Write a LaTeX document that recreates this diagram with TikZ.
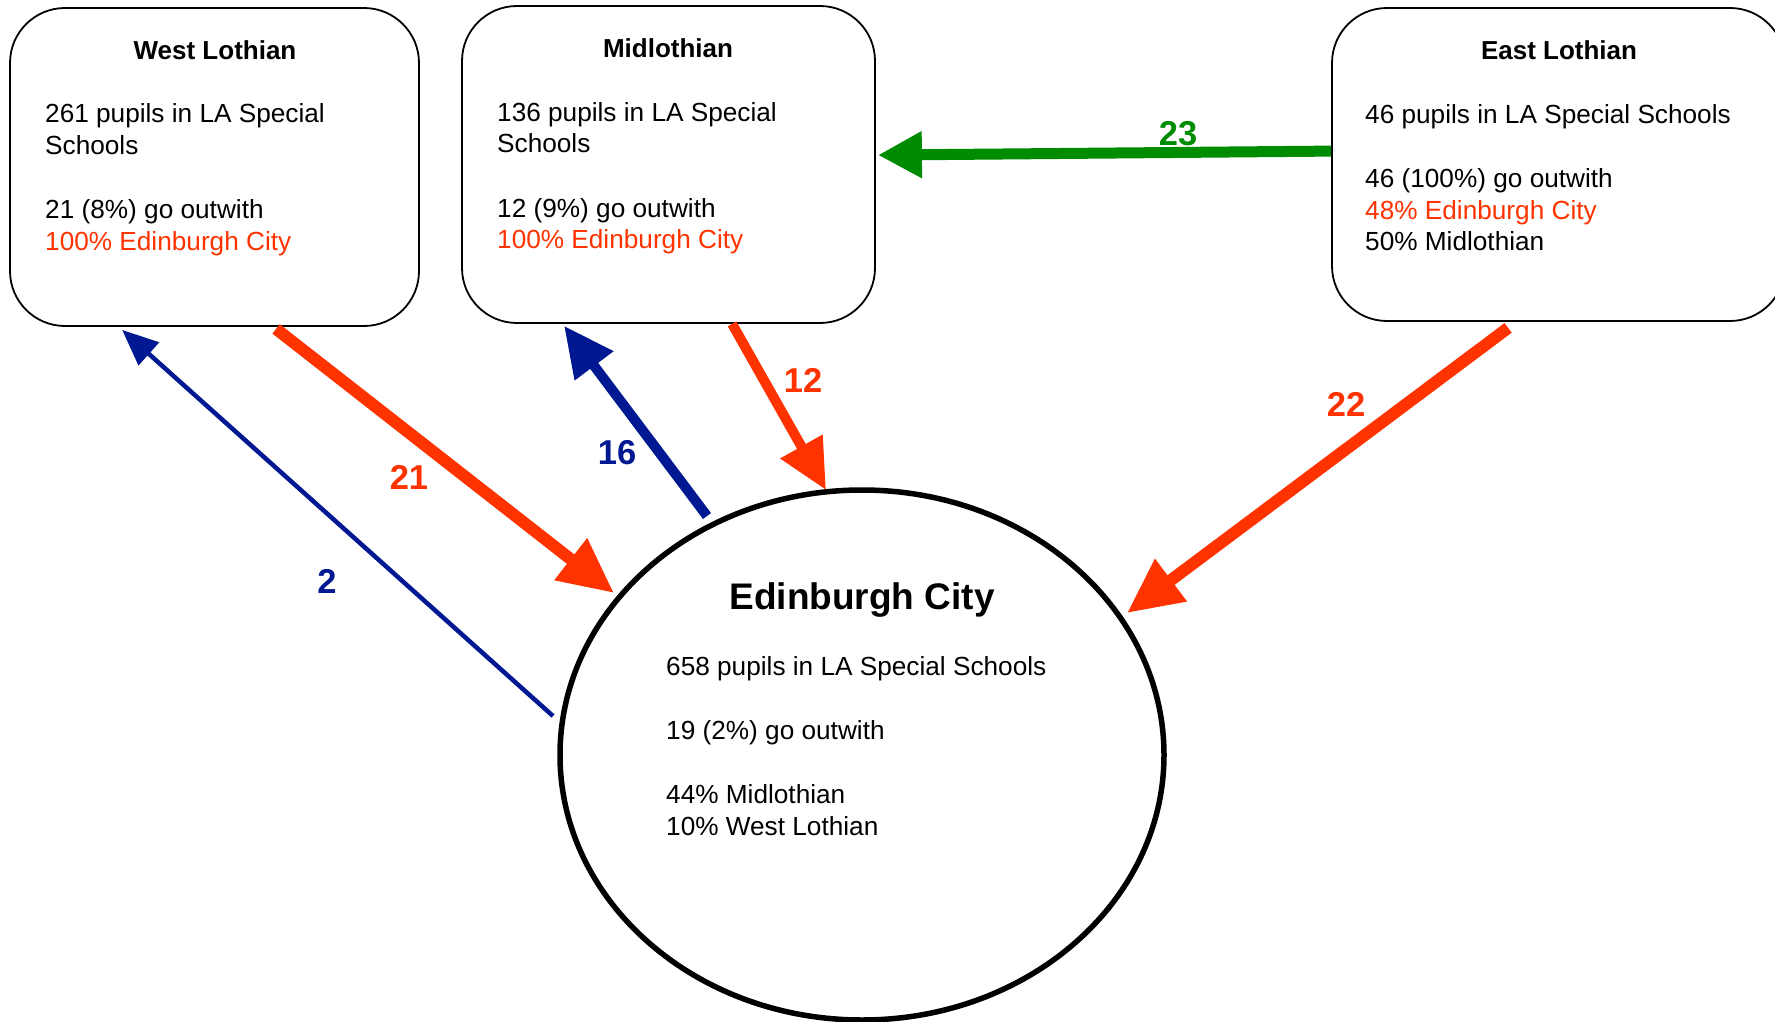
\documentclass[tikz,border=0pt]{standalone}
\usepackage{fontspec}
\setmainfont{Liberation Sans}
\usetikzlibrary{arrows.meta,calc,shapes.geometric}
\definecolor{flowred}{RGB}{255,51,0}
\definecolor{flowblue}{RGB}{0,24,145}
\definecolor{flowgreen}{RGB}{0,140,0}
\begin{document}
\begin{tikzpicture}[x=1pt,y=-1pt,
  labox/.style={draw=black,line width=1.8pt,rounded corners=55pt,inner sep=0pt,fill=white},
  city/.style={draw=black,line width=5.5pt,ellipse,inner sep=0pt,minimum width=604pt,minimum height=530pt},
  ttl/.style={anchor=base,inner sep=0pt,font=\fontsize{26}{31}\selectfont\bfseries},
  bigttl/.style={anchor=base,inner sep=0pt,font=\fontsize{37}{44}\selectfont\bfseries},
  txt/.style={anchor=base west,inner sep=0pt,font=\fontsize{26.2}{31}\selectfont},
  num/.style={inner sep=0pt,font=\fontsize{34.5}{40}\selectfont\bfseries},
  thickflow/.style={line width=12pt,-{Triangle[length=55pt,width=50pt]}},
  midflow/.style={line width=10pt,-{Triangle[length=50pt,width=46pt]}},
  thinflow/.style={line width=4.5pt,-{Triangle[length=36pt,width=30pt]}},
  greenflow/.style={line width=11pt,-{Triangle[length=44pt,width=44pt]}}
]
\useasboundingbox (0,0) rectangle (1775,1022);
\fill[white] (0,0) rectangle (1775,1022);

% boxes
\node[labox,minimum width=409pt,minimum height=318pt] (wl) at (214.5,167) {};
\node[labox,minimum width=413pt,minimum height=317pt] (ml) at (668.5,164.5) {};
\node[labox,minimum width=453pt,minimum height=313pt] (el) at (1558.5,164.5) {};
\node[city] (ec) at (862,755) {};

% West Lothian text
\node[ttl] (wlt) at (215,60) {West Lothian};
\node[txt] (wl1) at (45,123) {261 pupils in LA Special};
\node[txt] (wl2) at (45,155) {Schools};
\node[txt] (wl3) at (45,218) {21 (8\%) go outwith};
\node[txt,text=flowred] (wl4) at (45,250) {100\% Edinburgh City};

% Midlothian text
\node[ttl] (mlt) at (668,58) {Midlothian};
\node[txt] (ml1) at (497,122) {136 pupils in LA Special};
\node[txt] (ml2) at (497,153) {Schools};
\node[txt] (ml3) at (497,217) {12 (9\%) go outwith};
\node[txt,text=flowred] (ml4) at (497,248) {100\% Edinburgh City};

% East Lothian text
\node[ttl] (elt) at (1559,60) {East Lothian};
\node[txt] (el1) at (1365,124) {46 pupils in LA Special Schools};
\node[txt] (el2) at (1365,187) {46 (100\%) go outwith};
\node[txt,text=flowred] (el3) at (1365,219) {48\% Edinburgh City};
\node[txt] (el4) at (1365,250) {50\% Midlothian};

% Edinburgh City text
\node[bigttl] (ect) at (862,609) {Edinburgh City};
\node[txt] (ec1) at (666,675) {658 pupils in LA Special Schools};
\node[txt] (ec2) at (666,739) {19 (2\%) go outwith};
\node[txt] (ec3) at (666,803) {44\% Midlothian};
\node[txt] (ec4) at (666,835) {10\% West Lothian};

% connectors
\draw[thinflow,draw=flowblue,fill=flowblue]
  ($(ec.center)+(-309,-39)$) -- ($(wl.south west)+(113,3)$);
\draw[thickflow,draw=flowred,fill=flowred]
  ($(wl.south west)+(267,2)$) -- ($(ec.center)+(-248,-162)$);
\draw[midflow,draw=flowblue,fill=flowblue]
  ($(ec.center)+(-155,-239)$) -- ($(ml.south west)+(103,2)$);
\draw[midflow,draw=flowred,fill=flowred]
  ($(ml.south west)+(271,0)$) -- ($(ec.center)+(-36,-265)$);
\draw[thickflow,draw=flowred,fill=flowred]
  ($(el.south west)+(177,6)$) -- ($(ec.center)+(265,-142)$);
\draw[greenflow,draw=flowgreen,fill=flowgreen]
  ($(el.north west)+(0,144)$) -- ($(ml.north east)+(2,150)$);

% labels
\node[num,text=flowblue] (n2) at (327,581) {2};
\node[num,text=flowred] (n21) at (409,477) {21};
\node[num,text=flowblue] (n16) at (617,453) {16};
\node[num,text=flowred] (n12) at (803,380) {12};
\node[num,text=flowred] (n22) at (1346,404) {22};
\node[num,text=flowgreen] (n23) at (1178,134) {23};
\end{tikzpicture}
\end{document}
